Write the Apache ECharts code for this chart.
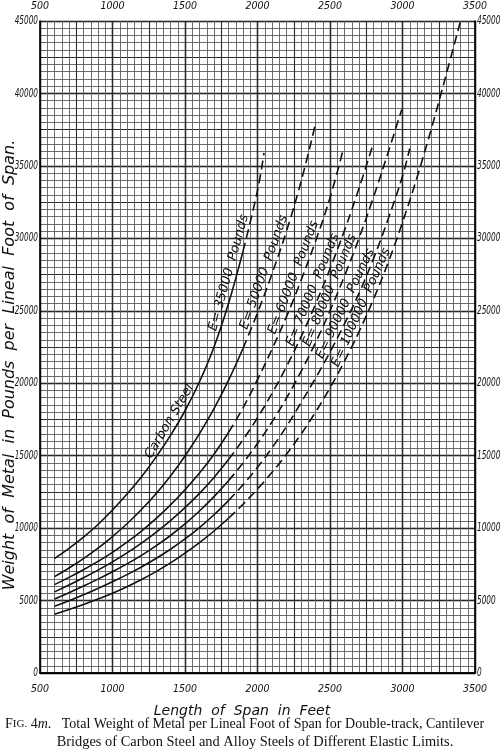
<!DOCTYPE html>
<html><head><meta charset="utf-8">
<script src="https://cdn.jsdelivr.net/npm/echarts@6/dist/echarts.min.js"></script>
<style>html,body{margin:0;padding:0;background:#fff}#c{width:500px;height:755px}</style>
</head><body><div id="c"></div>
<script>
// ---- data (span in feet, weight in lb per lineal foot) ----
const spanE35 = [600,700,800,900,1000,1100,1200,1300,1400,1500,1600,1700,1800,1900,2000,2045];
const weightE35 = [7900,8600,9380,10250,11250,12350,13550,14900,16400,18100,20100,22500,25500,29100,33300,35900];

const spanE50 = [600,700,800,900,1000,1100,1200,1300,1400,1500,1600,1700,1800,1900,2000,2100,2200,2300,2400];
const weightE50 = [6650,7250,7900,8620,9420,10300,11280,12370,13600,14980,16520,18250,20200,22400,24850,27550,30500,33900,37900];

const spanE60 = [600,700,800,900,1000,1100,1200,1300,1400,1500,1600,1700,1800,1900,2000,2100,2200,2300,2400,2500,2590];
const weightE60 = [6100,6600,7130,7700,8330,9030,9800,10650,11600,12650,13800,15100,16600,18300,20250,22350,24600,27100,29800,32800,36100];

const spanE70 = [600,700,800,900,1000,1100,1200,1300,1400,1500,1600,1700,1800,1900,2000,2100,2200,2300,2400,2500,2600,2700,2800];
const weightE70 = [5600,6070,6570,7100,7670,8290,8970,9710,10520,11410,12400,13500,14730,16100,17620,19300,21150,23200,25450,27900,30550,33450,36600];

const spanE80 = [600,700,800,900,1000,1100,1200,1300,1400,1500,1600,1700,1800,1900,2000,2100,2200,2300,2400,2500,2600,2700,2800,2900,2995];
const weightE80 = [5100,5540,6000,6480,6990,7530,8120,8770,9490,10290,11180,12170,13270,14490,15840,17330,18980,20800,22800,25000,27400,30000,32850,35900,38900];

const spanE90 = [600,700,800,900,1000,1100,1200,1300,1400,1500,1600,1700,1800,1900,2000,2100,2200,2300,2400,2500,2600,2700,2800,2900,3000,3050];
const weightE90 = [4600,4990,5400,5840,6300,6790,7320,7900,8540,9250,10040,10920,11900,12990,14200,15540,17020,18650,20350,22150,24100,26200,28600,31300,34300,36200];

const spanE100 = [600,700,800,900,1000,1100,1200,1300,1400,1500,1600,1700,1800,1900,2000,2100,2200,2300,2400,2500,2600,2700,2800,2900,3000,3100,3200,3300,3400];
const weightE100 = [4050,4380,4730,5100,5500,5950,6450,7000,7600,8270,9000,9800,10680,11650,12700,13850,15100,16480,18000,19680,21520,23550,25800,28300,31100,34200,37600,41250,45000];

const curveLabels = ['E= 35000  Pounds','E= 50000  Pounds','E= 60000  Pounds','E= 70000  Pounds','E= 80000  Pounds','E= 90000  Pounds','E= 100000  Pounds'];
const extraLabel = 'Carbon Steel';

const yTicks = [0,5000,10000,15000,20000,25000,30000,35000,40000,45000];

const xTitle = 'Length  of  Span  in  Feet';
const yTitle = 'Weight  of  Metal  in  Pounds  per  Lineal  Foot  of  Span.';
const captionLine1 = 'Total Weight of Metal per Lineal Foot of Span for Double-track, Cantilever';
const captionLine2 = 'Bridges of Carbon Steel and Alloy Steels of Different Elastic Limits.';

// ---- styling / layout ----
const curves = [
  {span: spanE35, weight: weightE35, solidTo: 1900, labelAt: 1855},
  {span: spanE50, weight: weightE50, solidTo: 1900, labelAt: 2097},
  {span: spanE60, weight: weightE60, solidTo: 1800, labelAt: 2300},
  {span: spanE70, weight: weightE70, solidTo: 1800, labelAt: 2432},
  {span: spanE80, weight: weightE80, solidTo: 1800, labelAt: 2550},
  {span: spanE90, weight: weightE90, solidTo: 1800, labelAt: 2655},
  {span: spanE100, weight: weightE100, solidTo: 1800, labelAt: 2765}
];

const tickFont = "'DejaVu Sans Condensed','DejaVu Sans',sans-serif";
const handFont = "'DejaVu Sans',sans-serif";
const serif = "'Liberation Serif','DejaVu Serif',serif";

const chart = echarts.init(document.getElementById('c'), null, {renderer:'canvas'});
const GRID = {left:40, right:25, top:21, bottom:82, containLabel:false, outerBoundsMode:'none'};
const XMIN = 500, XMAX = 3500, YMIN = 0, YMAX = 45000;

const series = [];
curves.forEach((c,ci)=>{
  const solid=[], dashed=[];
  c.span.forEach((s,i)=>{
    if (s <= c.solidTo) solid.push([s,c.weight[i]]);
    if (s >= c.solidTo) dashed.push([s,c.weight[i]]);
  });
  const base = {type:'line', symbol:'none', smooth:0.4, xAxisIndex:0, yAxisIndex:0, z:5, silent:true, animation:false};
  series.push(Object.assign({}, base, {data:solid, lineStyle:{color:'#111', width:1.6}}));
  series.push(Object.assign({}, base, {data:dashed, lineStyle:{color:'#111', width:1.6, type:[9,5]}}));
});

const axisLabelX = {fontFamily: tickFont, fontStyle:'italic', fontSize:10.5, color:'#111', formatter: v=>String(v)};
const minorStyle = {color:'#5c5c5c', width:0.9};

const option = {
  backgroundColor:'#fff',
  animation:false,
  grid: GRID,
  xAxis: [
    {type:'value', min:XMIN, max:XMAX, interval:500, position:'bottom',
     axisLine:{show:true, lineStyle:{color:'#000', width:1.6}}, axisTick:{show:false},
     axisLabel:Object.assign({margin:11}, axisLabelX),
     splitLine:{show:true, lineStyle:{color:'#000', width:1.4}},
     minorTick:{show:false, splitNumber:10},
     minorSplitLine:{show:true, lineStyle:minorStyle}},
    {type:'value', min:XMIN, max:XMAX, interval:500, position:'top',
     axisLine:{show:true, lineStyle:{color:'#000', width:1.6}}, axisTick:{show:false},
     axisLabel:Object.assign({margin:9}, axisLabelX), splitLine:{show:false}},
    {type:'value', min:XMIN, max:XMAX, interval:250, position:'bottom',
     axisLine:{show:false}, axisTick:{show:false}, axisLabel:{show:false},
     splitLine:{show:true, lineStyle:{color:'#2a2a2a', width:1.1}}}
  ],
  yAxis: [
    {type:'value', min:YMIN, max:YMAX, interval:5000, position:'left',
     axisLine:{show:true, lineStyle:{color:'#000', width:1.6}}, axisTick:{show:false},
     axisLabel:{show:false},
     splitLine:{show:true, lineStyle:{color:'#000', width:1.4}},
     minorTick:{show:false, splitNumber:10},
     minorSplitLine:{show:true, lineStyle:minorStyle}},
    {type:'value', min:YMIN, max:YMAX, interval:5000, position:'right',
     axisLine:{show:true, lineStyle:{color:'#000', width:1.6}}, axisTick:{show:false},
     axisLabel:{show:false}, splitLine:{show:false}},
    {type:'value', min:YMIN, max:YMAX, interval:2500, position:'left',
     axisLine:{show:false}, axisTick:{show:false}, axisLabel:{show:false},
     splitLine:{show:true, lineStyle:{color:'#2a2a2a', width:1.1}}}
  ],
  series: series,
  graphic: [
    {type:'text', x:242, y:711, style:{text:xTitle, font:"italic 14px "+handFont, fill:'#111', align:'center', verticalAlign:'middle'}},
    {type:'text', x:10, y:365, rotation:Math.PI/2, style:{text:yTitle, font:"italic 16px "+handFont, fill:'#111', align:'center', verticalAlign:'middle'}},
    {type:'text', x:5, y:724, style:{
      text:'{sc1|F}{sc2|IG.}{n| 4}{i|m}{n|.   '+captionLine1+'}',
      verticalAlign:'middle',
      rich:{sc1:{font:"14px "+serif, fill:'#111'}, sc2:{font:"11px "+serif, fill:'#111'}, n:{font:"14px "+serif, fill:'#111'}, i:{font:"italic 14px "+serif, fill:'#111'}}}},
    {type:'text', x:255, y:742, style:{text:captionLine2, font:"14.4px "+serif, fill:'#111', align:'center', verticalAlign:'middle'}}
  ]
};
chart.setOption(option);

// ---- y tick labels (narrow, tall lettering) placed through the axis scale ----
const tickGraphics = [];
yTicks.forEach(v=>{
  const yL = chart.convertToPixel({yAxisIndex:0}, v);
  const xL = chart.convertToPixel({xAxisIndex:0}, XMIN);
  const xR = chart.convertToPixel({xAxisIndex:0}, XMAX);
  tickGraphics.push({type:'text', x:xL-2, y:yL, scaleX:0.68, z:10,
    style:{text:String(v), font:"italic 12px "+tickFont, fill:'#111', align:'right', verticalAlign:'middle'}});
  tickGraphics.push({type:'text', x:xR+2, y:yL, scaleX:0.68, z:10,
    style:{text:String(v), font:"italic 12px "+tickFont, fill:'#111', align:'left', verticalAlign:'middle'}});
});

// ---- curve labels, placed along their curves ----
function pointAt(c, s){
  for (let i=0;i<c.span.length-1;i++){
    if (s>=c.span[i] && s<=c.span[i+1]){
      const t=(s-c.span[i])/(c.span[i+1]-c.span[i]);
      return [s, c.weight[i]+t*(c.weight[i+1]-c.weight[i])];
    }
  }
  return [c.span[c.span.length-1], c.weight[c.weight.length-1]];
}
function makeLabel(c, s, text, fontSize, shift){
  const p = chart.convertToPixel({gridIndex:0}, pointAt(c,s));
  const a = chart.convertToPixel({gridIndex:0}, pointAt(c,s-40));
  const b = chart.convertToPixel({gridIndex:0}, pointAt(c,s+40));
  const ang = Math.atan2(-(b[1]-a[1]), b[0]-a[0]);
  const nx = -Math.sin(ang), ny = -Math.cos(ang);
  const cx = p[0] + nx*shift, cy = p[1] + ny*shift;
  return {type:'text', x:cx, y:cy, rotation:ang, z:10,
    style:{text:text, font:"italic "+fontSize+"px "+handFont, fill:'#111', align:'center', verticalAlign:'middle'}};
}
const labelGraphics = [];
curves.forEach((c,i)=>{ labelGraphics.push(makeLabel(c, c.labelAt, curveLabels[i], 13, 8)); });
labelGraphics.push(makeLabel(curves[0], 1440, extraLabel, 13, 8));
chart.setOption({graphic: option.graphic.concat(tickGraphics, labelGraphics)});
</script>
</body></html>
